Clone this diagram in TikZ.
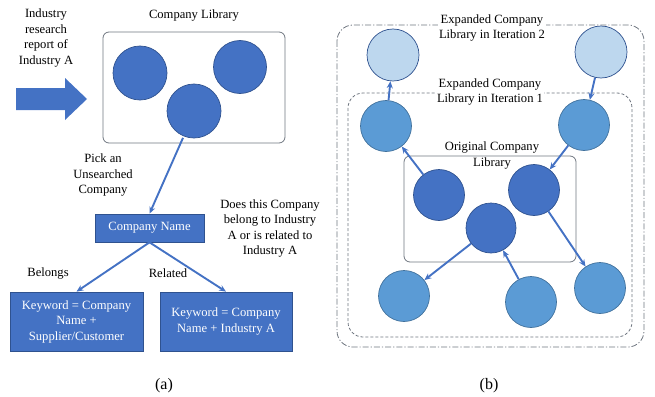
\documentclass[tikz,border=0pt]{standalone}
\usepackage{fontspec}
\setmainfont{Liberation Serif}
\usetikzlibrary{arrows.meta}
\definecolor{dkblue}{HTML}{4472C4}
\definecolor{dkline}{HTML}{2F528F}
\definecolor{mdblue}{HTML}{5B9BD5}
\definecolor{mdline}{HTML}{41719C}
\definecolor{ltblue}{HTML}{BDD7EE}
\definecolor{frame}{HTML}{6F7680}
\begin{document}
\begin{tikzpicture}[x=1pt,y=-1pt,
  every node/.style={font=\fontsize{12.6}{15.5}\selectfont},
  lbl/.style={align=center,inner sep=0pt},
  orig/.style={circle,fill=dkblue,draw=dkline,line width=0.7pt,minimum size=52pt,inner sep=0pt},
  iterone/.style={circle,fill=mdblue,draw=mdline,line width=0.7pt,minimum size=51pt,inner sep=0pt},
  itertwo/.style={circle,fill=ltblue,draw=dkline,line width=0.7pt,minimum size=52pt,inner sep=0pt},
  bluebox/.style={fill=dkblue,draw=dkline,line width=0.7pt,text=white,align=center,inner sep=0pt},
  conn/.style={draw=dkblue,line width=1.9pt,-{Stealth[length=7pt,width=6pt]}},
  libframe/.style={draw=frame,line width=0.8pt,rounded corners=6pt},
]
\useasboundingbox (0,0) rectangle (655,396);

% ---------- panel (a)
\node[lbl] (report) at (46,38) {Industry\\research\\report of\\Industry A};
\fill[dkblue] (16,88) -- (65,88) -- (65,78) -- (87,99) -- (65,120) -- (65,110) -- (16,110) -- cycle;
\node[lbl] (libtitle) at (194,15) {Company Library};
\node[libframe,minimum width=182pt,minimum height=111pt,inner sep=0pt] (lib) at (194,87.5) {};
\node[orig,minimum size=54pt] (ca) at (140,73) {};
\node[orig,minimum size=53pt] (cb) at (240,67) {};
\node[orig,minimum size=54pt] (cc) at (194,111) {};
\node[lbl] (pick) at (103,175) {Pick an\\Unsearched\\Company};
\node[bluebox,minimum width=109pt,minimum height=28pt] (cname) at (149.5,228) {Company Name};
\node[lbl] (question) at (270,228.5) {Does this Company\\belong to Industry\\A or is related to\\Industry A};
\node[bluebox,minimum width=133pt,minimum height=59pt] (kwl) at (76.5,321.5) {Keyword = Company\\Name +\\Supplier/Customer};
\node[bluebox,minimum width=132pt,minimum height=59pt] (kwr) at (226,321.5) {Keyword = Company\\Name + Industry A};
\node[lbl] (belongs) at (48,273) {Belongs};
\node[lbl] (related) at (168,273) {Related};
\node[lbl,font=\fontsize{16}{18}\selectfont] (capa) at (164,386) {(a)};

\draw[conn] (cc.south) ++(-11,-0.5) coordinate (ccs) -- (cname.north);
\draw[conn] (cname.south) -- (kwl.north);
\draw[conn] (cname.south) -- (kwr.north);

% ---------- panel (b)
\draw[draw=frame,line width=0.8pt,dash pattern=on 6pt off 2pt on 1.2pt off 2pt,rounded corners=16pt]
  (337,25) rectangle (644,347);
\draw[draw=frame,line width=0.8pt,dash pattern=on 3pt off 2pt,rounded corners=15pt]
  (348,93) rectangle (632,337);
\node[libframe,minimum width=172pt,minimum height=106pt,inner sep=0pt] (origbox) at (490,209) {};

\node[lbl,fill=white,inner xsep=1pt] (t2) at (492,28) {Expanded Company\\Library in Iteration 2};
\node[lbl,fill=white,inner xsep=1pt] (t1) at (490,92) {Expanded Company\\Library in Iteration 1};
\node[lbl] (t0) at (492,155.5) {Original Company\\Library};

\node[itertwo] (la) at (393,55) {};
\node[itertwo] (lb) at (601,52) {};
\node[iterone] (ma) at (386,126) {};
\node[iterone] (mb) at (584,125) {};
\node[iterone] (mc) at (404,296) {};
\node[iterone] (md) at (531,302) {};
\node[iterone] (me) at (600,288) {};
\node[orig,minimum size=51pt] (oa) at (439,195) {};
\node[orig,minimum size=51pt] (ob) at (534,190) {};
\node[orig,minimum size=50pt] (oc) at (491,228) {};

\draw[conn] (ma) -- (la);
\draw[conn] (lb) -- (mb);
\draw[conn] (oa) -- (ma);
\draw[conn] (mb) -- (ob);
\draw[conn] (ob) -- (me);
\draw[conn] (oc) -- (mc);
\draw[conn] (md) -- (oc);

\node[lbl,font=\fontsize{16}{18}\selectfont] (capb) at (489,386) {(b)};
\end{tikzpicture}
\end{document}
